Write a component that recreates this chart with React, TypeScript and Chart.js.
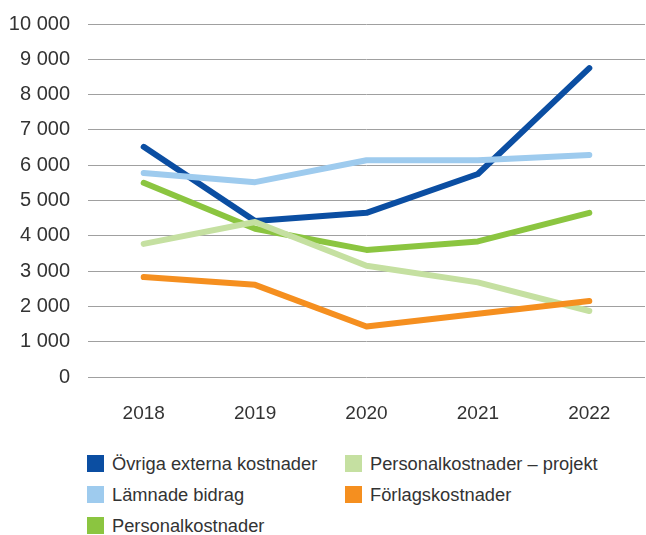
import React, { useEffect, useRef } from "react";
import { Chart, registerables } from "chart.js";

Chart.register(...registerables);

const years = ["2018", "2019", "2020", "2021", "2022"];
const ovrigaExterna = [6520, 4420, 4650, 5750, 8750];
const lamnadeBidrag = [5780, 5520, 6140, 6140, 6290];
const personalkostnader = [5500, 4200, 3600, 3840, 4650];
const personalProjekt = [3770, 4390, 3150, 2680, 1870];
const forlagskostnader = [2830, 2610, 1430, 1790, 2150];

const seriesNames = [
  "Övriga externa kostnader",
  "Lämnade bidrag",
  "Personalkostnader",
  "Personalkostnader – projekt",
  "Förlagskostnader",
];
const seriesColors = ["#0B4EA2", "#9ECBEE", "#8BC540", "#C5E0A1", "#F58F1F"];
const seriesData = [ovrigaExterna, lamnadeBidrag, personalkostnader, personalProjekt, forlagskostnader];

const FONT = "'Liberation Sans', Arial, Helvetica, sans-serif";
const TEXT = "#333333";

export default function App() {
  const ref = useRef<HTMLCanvasElement | null>(null);

  useEffect(() => {
    if (!ref.current) return;
    const chart = new Chart(ref.current, {
      type: "line",
      data: {
        labels: years,
        datasets: seriesData.map((d, i) => ({
          label: seriesNames[i],
          data: d,
          borderColor: seriesColors[i],
          backgroundColor: seriesColors[i],
          borderWidth: 6,
          borderCapStyle: "round" as const,
          borderJoinStyle: "round" as const,
          pointRadius: 0,
          tension: 0,
          order: seriesData.length - i,
        })),
      },
      options: {
        responsive: false,
        animation: false,
        layout: { padding: { left: 0, right: 1, top: 24, bottom: 0 } },
        plugins: { legend: { display: false }, tooltip: { enabled: false } },
        scales: {
          x: {
            offset: true,
            grid: { display: false, drawTicks: false },
            border: { display: false },
            ticks: { color: TEXT, font: { family: FONT, size: 19 }, padding: 25 },
            afterFit: (s: any) => {
              s.height = 63;
            },
          },
          y: {
            min: 0,
            max: 10000,
            grid: { color: "#a0a0a0", lineWidth: 1, drawTicks: true, tickLength: 18, tickColor: "rgba(0,0,0,0)" },
            border: { display: false },
            ticks: {
              stepSize: 1000,
              color: TEXT,
              font: { family: FONT, size: 20 },
              padding: 0,
              callback: (v: any) => String(v).replace(/\B(?=(\d{3})+(?!\d))/g, " "),
            },
            afterFit: (s: any) => {
              s.width = 88;
            },
          },
        },
      },
    });
    return () => chart.destroy();
  }, []);

  const legendPos = [
    { x: 87, y: 455 },
    { x: 87, y: 486 },
    { x: 87, y: 517 },
    { x: 345, y: 455 },
    { x: 345, y: 486 },
  ];

  return (
    <div style={{ position: "absolute", left: 0, top: 0, width: 646, height: 535, background: "#fff", overflow: "hidden" }}>
      <canvas ref={ref} width={646} height={440} style={{ position: "absolute", left: 0, top: 0 }} />
      {seriesNames.map((n, i) => (
        <div
          key={n}
          style={{
            position: "absolute",
            left: legendPos[i].x,
            top: legendPos[i].y,
            height: 17,
            display: "flex",
            alignItems: "center",
            whiteSpace: "nowrap",
            fontFamily: FONT,
            fontSize: 18.3,
            color: TEXT,
          }}
        >
          <span style={{ display: "inline-block", width: 17, height: 17, background: seriesColors[i], marginRight: 8 }} />
          <span>{n}</span>
        </div>
      ))}
    </div>
  );
}
